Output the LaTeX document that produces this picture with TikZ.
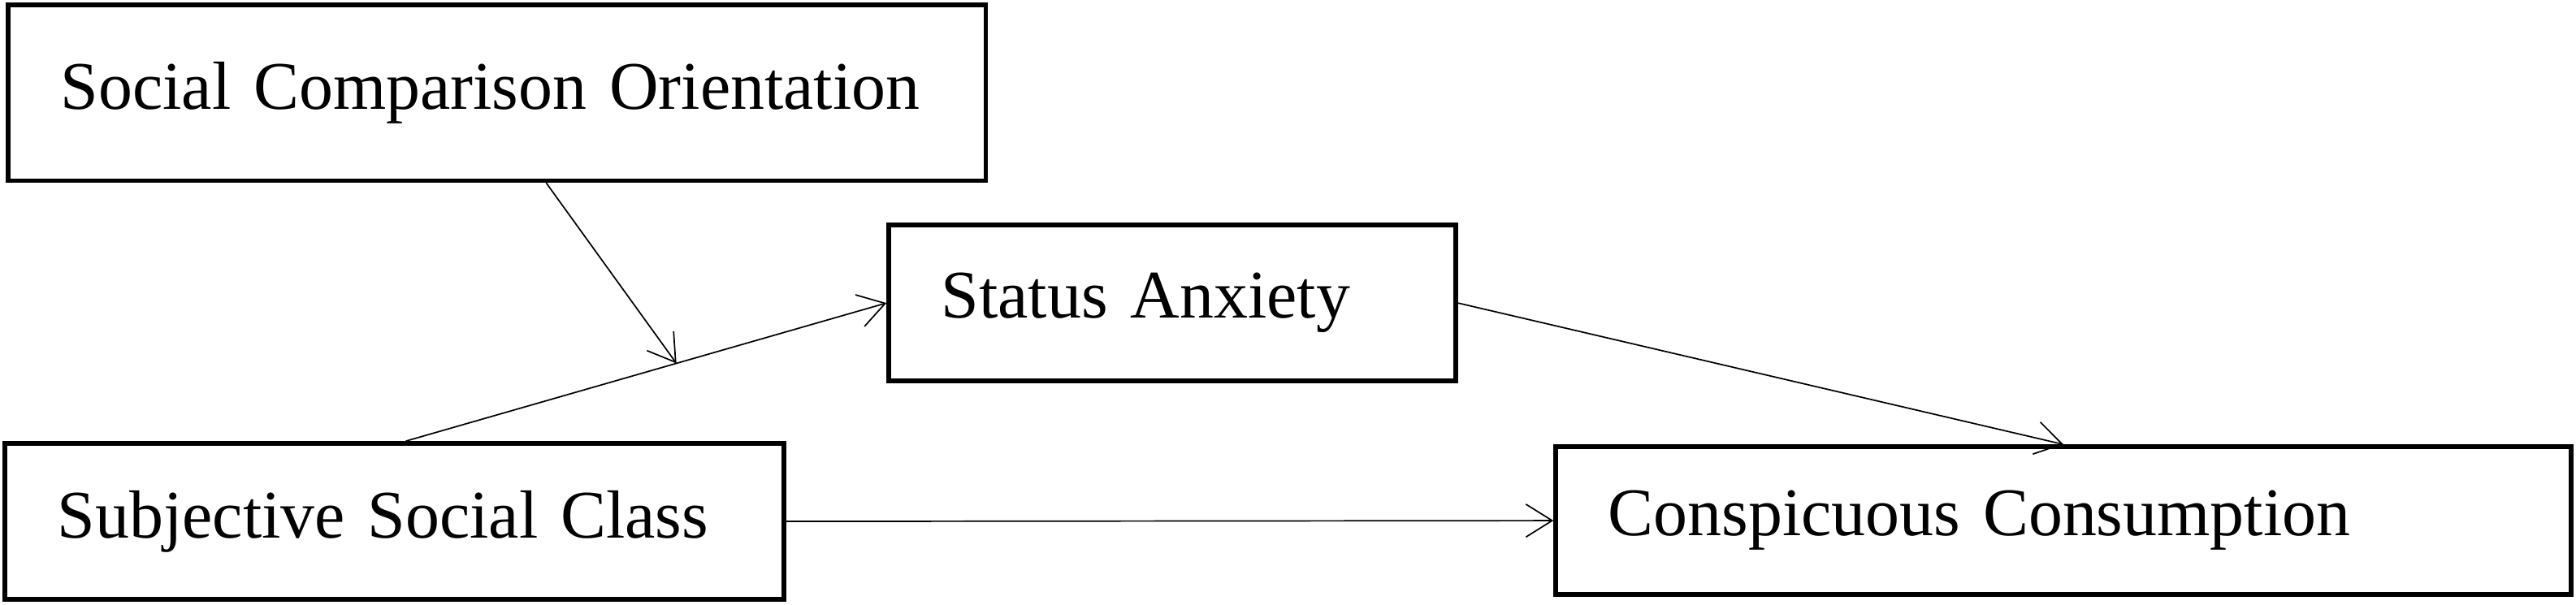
\documentclass[tikz,border=0pt]{standalone}
\usepackage{fontspec}
\setmainfont{Liberation Serif}
\usetikzlibrary{arrows.meta,calc}
\begin{document}
\begin{tikzpicture}[x=0.25mm,y=-0.25mm,
    box/.style={draw, line width=2pt, inner xsep=8mm, inner ysep=0pt, align=left,
        font=\fontsize{29.5}{34}\selectfont},
    link/.style={line width=0.6pt, -{Straight Barb[length=4mm,width=5mm]}}]

        \useasboundingbox (0,0) rectangle (1568,368);

        \node[box, text width=595*0.25mm-16mm, minimum height=107*0.25mm] (sco) at (302.5,56.5) {Social Comparison Orientation};
        \node[box, text width=345*0.25mm-16mm, minimum height=95*0.25mm] (sa) at (713.5,184.5) {Status Anxiety};
        \node[box, text width=474*0.25mm-16mm, minimum height=95*0.25mm] (ssc) at (240,317.5) {Subjective Social Class};
        \node[box, text width=618*0.25mm-16mm, minimum height=90*0.25mm] (cc) at (1256,317) {Conspicuous Consumption};

        \coordinate (ssctop) at ($(ssc.north)+(7,0)$);
        \coordinate (mid) at ($(ssctop)!0.563!(sa.west)$);

        \draw[link] (ssctop) -- (sa.west);
        \draw[link] ($(sco.south)+(30,0)$) -- (mid);
        \draw[link] (sa.east) -- (cc.north);
        \draw[link] (ssc.east) -- (cc.west);

\end{tikzpicture}
\end{document}
